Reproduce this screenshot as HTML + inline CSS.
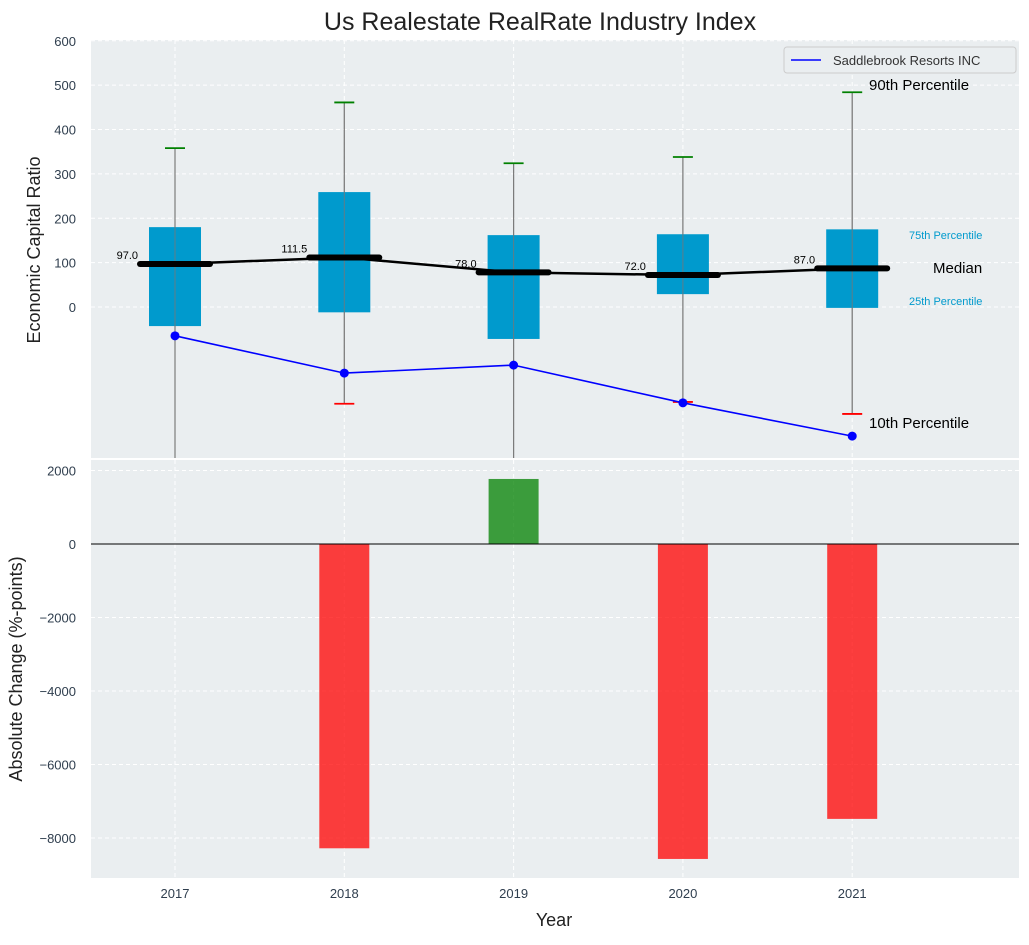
<!DOCTYPE html>
<html><head><meta charset="utf-8"><style>
body{margin:0;background:#fff;font-family:"Liberation Sans",sans-serif}
svg text{font-family:"Liberation Sans",sans-serif}
</style></head><body>
<svg id="c" width="1029" height="940" xmlns="http://www.w3.org/2000/svg"></svg>
<script>
const years=[2017,2018,2019,2020,2021];
const p90=[358,461,324,338,484];
const p75=[180,259,162,164,175];
const medians=[97,111.5,78,72,87];
const p25=[-43,-12,-72,29,-2];
const p10=[-420,-218,-420,-214,-241];
const company=[-65,-149,-131,-216,-291];
const changes=[0,-8280,1770,-8570,-7480];
const topTicks=[0,100,200,300,400,500,600];
const botTicks=[2000,0,-2000,-4000,-6000,-8000];

const NS="http://www.w3.org/2000/svg";
const svg=document.getElementById('c');
function el(t,a,p){const e=document.createElementNS(NS,t);for(const k in a)e.setAttribute(k,a[k]);(p||svg).appendChild(e);return e;}
const L=91,R=1019;
const x=i=>175+i*169.3;
const T0=40,T1=458;
const yT=v=>307-v*0.4437;
const B0=460,B1=878;
const yB=v=>544-v*0.03675;

// backgrounds
let bg=el('rect',{x:L,y:T0,width:R-L,height:T1-T0,fill:'#eaeef0'});

let bg2=el('rect',{x:L,y:B0,width:R-L,height:B1-B0,fill:'#eaeef0'});


const defs=el('defs',{});
const cp=el('clipPath',{id:'ct'},defs);el('rect',{x:L,y:T0,width:R-L,height:T1-T0},cp);
const tg=el('g',{'clip-path':'url(#ct)'});

// grids
years.forEach((yr,i)=>{
  el('line',{x1:x(i),x2:x(i),y1:T0,y2:T1,stroke:'#fff','stroke-dasharray':'4,3'},tg);
  el('line',{x1:x(i),x2:x(i),y1:B0,y2:B1,stroke:'#fff','stroke-dasharray':'4,3'});
  const t=el('text',{x:x(i),y:898,'text-anchor':'middle','font-size':13,fill:'#2f3e4e'});t.textContent=yr;
  
});
topTicks.forEach(v=>{
  el('line',{x1:L,x2:R,y1:yT(v),y2:yT(v),stroke:'#fff','stroke-dasharray':'4,3'},tg);
  const t=el('text',{x:76,y:yT(v)+5,'text-anchor':'end','font-size':13,fill:'#2f3e4e'});t.textContent=v;
  
});
botTicks.forEach(v=>{
  el('line',{x1:L,x2:R,y1:yB(v),y2:yB(v),stroke:'#fff','stroke-dasharray':'4,3'});
  const t=el('text',{x:76,y:yB(v)+5,'text-anchor':'end','font-size':13,fill:'#2f3e4e'});t.textContent=String(v).replace('-','\u2212');
  
});

// whiskers + boxes
years.forEach((yr,i)=>{
  el('line',{x1:x(i),x2:x(i),y1:yT(p90[i]),y2:yT(p10[i]),stroke:'#888','stroke-width':1.2},tg);
  const b=el('rect',{x:x(i)-26,y:yT(p75[i]),width:52,height:yT(p25[i])-yT(p75[i]),fill:'#009acd'},tg);
  
  el('line',{x1:x(i),x2:x(i),y1:yT(p90[i]),y2:yT(p10[i]),stroke:'#777','stroke-width':1,opacity:0.8},tg);
  const c1=el('line',{x1:x(i)-10,x2:x(i)+10,y1:yT(p90[i]),y2:yT(p90[i]),stroke:'green','stroke-width':1.8},tg);
  
  const c2=el('line',{x1:x(i)-10,x2:x(i)+10,y1:yT(p10[i]),y2:yT(p10[i]),stroke:'red','stroke-width':1.8},tg);
  
});
// median line
el('polyline',{points:medians.map((v,i)=>x(i)+','+yT(v)).join(' '),fill:'none',stroke:'#000','stroke-width':2.5},tg);
medians.forEach((v,i)=>{
  const m=el('line',{x1:x(i)-35,x2:x(i)+35,y1:yT(v),y2:yT(v),stroke:'#000','stroke-width':6,'stroke-linecap':'round'},tg);
  
  const t=el('text',{x:x(i)-37,y:yT(v)-5,'text-anchor':'end','font-size':11,fill:'#000'});t.textContent=v.toFixed(1);
  
});
// company line
const pl=el('polyline',{points:company.map((v,i)=>x(i)+','+yT(v)).join(' '),fill:'none',stroke:'blue','stroke-width':1.6},tg);

company.forEach((v,i)=>{const c=el('circle',{cx:x(i),cy:yT(v),r:4.5,fill:'blue'},tg);
  });

// annotations
const ann=[[869,90,'90th Percentile',15,'#000'],[909,239,'75th Percentile',11,'#009acd'],[933,273,'Median',15,'#000'],[909,305,'25th Percentile',11,'#009acd'],[869,428,'10th Percentile',15,'#000']];
ann.forEach(a=>{const t=el('text',{x:a[0],y:a[1],'font-size':a[3],fill:a[4]});t.textContent=a[2];
  });

// legend
const lg=el('g',{});
el('rect',{x:784,y:47,width:232,height:26,rx:3,fill:'#eaeef0',stroke:'#ccc'},lg);
el('line',{x1:791,x2:821,y1:60,y2:60,stroke:'blue','stroke-width':1.6},lg);
const lt=el('text',{x:833,y:65,'font-size':13,fill:'#333'},lg);lt.textContent='Saddlebrook Resorts INC';

// bars
changes.forEach((v,i)=>{
  if(v===0)return;
  const y0=Math.min(yB(0),yB(v)),h=Math.abs(yB(v)-yB(0));
  const b=el('rect',{x:x(i)-25,y:y0,width:50,height:h,fill:v>0?'green':'red',opacity:0.75});
  
});
el('line',{x1:L,x2:R,y1:yB(0),y2:yB(0),stroke:'#000','stroke-width':1});

// titles
const tt=el('text',{x:540,y:30,'text-anchor':'middle','font-size':25,fill:'#222'});tt.textContent='Us Realestate RealRate Industry Index';

const yt=el('text',{x:0,y:0,'text-anchor':'middle','font-size':18,fill:'#222',transform:'translate(40,250) rotate(-90)'});yt.textContent='Economic Capital Ratio';

const yt2=el('text',{x:0,y:0,'text-anchor':'middle','font-size':18,fill:'#222',transform:'translate(22,669) rotate(-90)'});yt2.textContent='Absolute Change (%-points)';

const xt=el('text',{x:554,y:926,'text-anchor':'middle','font-size':18,fill:'#222'});xt.textContent='Year';

</script>
</body></html>
